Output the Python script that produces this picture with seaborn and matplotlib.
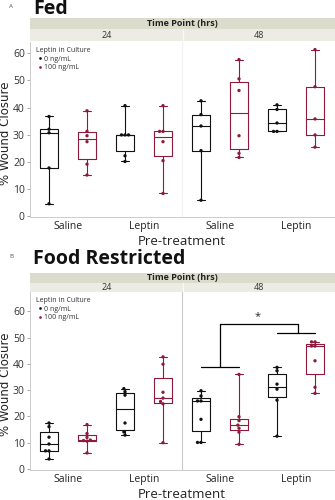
import matplotlib
matplotlib.use("Agg")
import matplotlib.pyplot as plt
import seaborn as sns
import pandas as pd
from matplotlib.patches import Rectangle

sns.set_style("white")
plt.rcParams['font.family'] = ['Open Sans', 'DejaVu Sans']

# ---------------- data ----------------
pretreatments = ["Saline", "Leptin", "Saline", "Leptin"]
time_points = ["24", "48"]
cultures = ["0 ng/mL", "100 ng/mL"]
colors = ["#111111", "#8e1b3c"]

# Fed panel
fed_sal24_0 = [36.7, 32.0, 30.7, 17.7, 4.5]
fed_sal24_100 = [38.8, 31.2, 29.6, 27.4, 19.1, 15.1]
fed_lep24_0 = [40.7, 29.9, 29.9, 29.9, 22.2, 20.1]
fed_lep24_100 = [40.7, 31.2, 31.2, 27.4, 20.4, 8.3]
fed_sal48_0 = [42.5, 37.4, 33.2, 24.1, 5.8]
fed_sal48_100 = [57.7, 50.6, 46.3, 29.6, 23.1, 21.6]
fed_lep48_0 = [41.0, 39.3, 34.3, 31.2, 31.2]
fed_lep48_100 = [61.4, 47.7, 35.8, 29.9, 25.4]

# Food restricted panel
fr_sal24_0 = [17.5, 16.1, 12.1, 9.5, 6.9, 6.9, 3.8]
fr_sal24_100 = [16.9, 13.5, 12.0, 11.0, 10.8, 10.6, 6.1]
fr_lep24_0 = [30.6, 29.4, 28.1, 17.5, 14.1, 12.9]
fr_lep24_100 = [42.7, 39.9, 29.2, 27.0, 25.7, 24.8, 10.0]
fr_sal48_0 = [29.8, 27.8, 25.9, 25.9, 18.9, 10.1, 10.1]
fr_sal48_100 = [36.0, 19.9, 18.4, 16.7, 15.5, 14.0, 9.4]
fr_lep48_0 = [38.7, 37.4, 32.3, 30.4, 26.2, 12.5]
fr_lep48_100 = [48.4, 48.4, 46.8, 46.8, 41.2, 31.1, 28.8]

# significance bracket (Food Restricted, 48 h): Saline vs Leptin
sig_low_left = 38.9
sig_low_right = 51.8
sig_top = 55.4
sig_label = "*"

fed_groups = [fed_sal24_0, fed_sal24_100, fed_lep24_0, fed_lep24_100,
              fed_sal48_0, fed_sal48_100, fed_lep48_0, fed_lep48_100]
fr_groups = [fr_sal24_0, fr_sal24_100, fr_lep24_0, fr_lep24_100,
             fr_sal48_0, fr_sal48_100, fr_lep48_0, fr_lep48_100]

slots = []
for i, p in enumerate(pretreatments):
    t = time_points[i // 2]
    for c in cultures:
        slots.append(f"{p} {t} {c}")


def make_df(groups):
    rows = []
    for k, vals in enumerate(groups):
        for v in vals:
            rows.append({"slot": slots[k], "culture": cultures[k % 2], "value": v})
    return pd.DataFrame(rows)


W, H = 335, 500
fig = plt.figure(figsize=(W / 100, H / 100), dpi=100)


def fx(px):
    return px / W


def fy(py):
    return 1 - py / H


left, right = 30, 334
pal = dict(zip(cultures, colors))


def draw_panel(groups, ax_top, ax_bot, ylim, hdr_top, hdr_mid, hdr_bot, title, letter,
               title_y, sep_color, bracket=False):
    ax = fig.add_axes([fx(left), fy(ax_bot), fx(right - left), (ax_bot - ax_top) / H])
    df = make_df(groups)
    sns.boxplot(data=df, x="slot", y="value", hue="culture", order=slots,
                hue_order=cultures, palette=pal, fill=False, width=0.47,
                whis=(0, 100), dodge=False, linewidth=0.8, legend=False, ax=ax)
    sns.swarmplot(data=df, x="slot", y="value", hue="culture", order=slots,
                  hue_order=cultures, palette=pal, size=2.4, dodge=False, ax=ax)
    ax.set_xlim(-0.5, 7.5)
    ax.set_ylim(*ylim)
    ax.set_yticks(range(0, 61, 10))
    ax.set_xticks([0.5, 2.5, 4.5, 6.5])
    ax.set_xticklabels(pretreatments)
    ax.tick_params(axis="x", length=0, pad=3, labelsize=7.5, labelcolor="#222222")
    ax.tick_params(axis="y", length=2.5, width=0.6, color="#999999", pad=1.2,
                   labelsize=7.5, labelcolor="#333333", left=True)
    for s in ["top", "right"]:
        ax.spines[s].set_visible(False)
    for s in ["left", "bottom"]:
        ax.spines[s].set_color("#cccccc")
        ax.spines[s].set_linewidth(0.7)
    ax.set_xlabel("Pre-treatment", fontsize=9.5, labelpad=2, color="#222222")
    ax.set_ylabel("% Wound Closure", fontsize=8.5, color="#222222",
                  family=["DejaVu Sans"])
    ax.yaxis.set_label_coords(-0.058, 0.48)
    ax.axvline(3.5, color=sep_color, lw=0.8, zorder=0)

    leg = ax.legend(loc="upper left", bbox_to_anchor=(0.005, 1.0), frameon=False,
                    title="Leptin in Culture", fontsize=5, title_fontsize=5,
                    handletextpad=0.1, borderpad=0.2, labelspacing=0.25,
                    markerscale=0.8, handlelength=1.0)
    leg._legend_box.align = "left"
    for t in leg.get_texts():
        t.set_color("#333333")
    leg.get_title().set_color("#333333")

    if bracket:
        ax.plot([4, 5], [sig_low_left, sig_low_left], color="black", lw=0.9)
        ax.plot([6, 7], [sig_low_right, sig_low_right], color="black", lw=0.9)
        ax.plot([4.5, 4.5, 6.55, 6.55], [sig_low_left, sig_top, sig_top, sig_low_right],
                color="black", lw=0.9)
        ax.text(5.5, sig_top + 0.4, sig_label, ha="center", va="bottom", fontsize=8)

    # header strip
    hx = fig.add_axes([fx(left), fy(hdr_bot), fx(right - left) + 0.003, (hdr_bot - hdr_top) / H])
    hx.set_xlim(-0.5, 7.5)
    hx.set_ylim(0, 2)
    hx.axis("off")
    frac = (hdr_mid - hdr_top) / (hdr_bot - hdr_top)
    ymid = 2 * (1 - frac)
    hx.add_patch(Rectangle((-0.5, ymid), 8, 2 - ymid, facecolor="#dcdccd", edgecolor="none"))
    hx.add_patch(Rectangle((-0.5, 0), 8, ymid, facecolor="#ececE4", edgecolor="none"))
    hx.plot([3.5, 3.5], [0, ymid], color="#f8f8f4", lw=1.0)
    hx.text(3.5, (2 + ymid) / 2, "Time Point (hrs)", ha="center", va="center",
            fontsize=6.5, fontweight="bold", color="#222222")
    hx.text(1.5, ymid / 2, time_points[0], ha="center", va="center", fontsize=6.5, color="#333333")
    hx.text(5.5, ymid / 2, time_points[1], ha="center", va="center", fontsize=6.5, color="#333333")

    fig.text(fx(33), fy(title_y), title, fontsize=14, fontweight="bold",
             ha="left", va="center", color="#111111")
    fig.text(fx(9), fy(title_y - 3), letter, fontsize=4.5, ha="left", va="center", color="#555555")


draw_panel(fed_groups, 42, 217, (-0.4, 64.2), 18, 29, 41, "Fed", "A", 9,
           "#f2f2f2")
draw_panel(fr_groups, 292, 470, (-0.4, 67.4), 273, 283, 292, "Food Restricted", "B", 259,
           "#c8c8c8", bracket=True)

fig.savefig("out.png", dpi=100)
